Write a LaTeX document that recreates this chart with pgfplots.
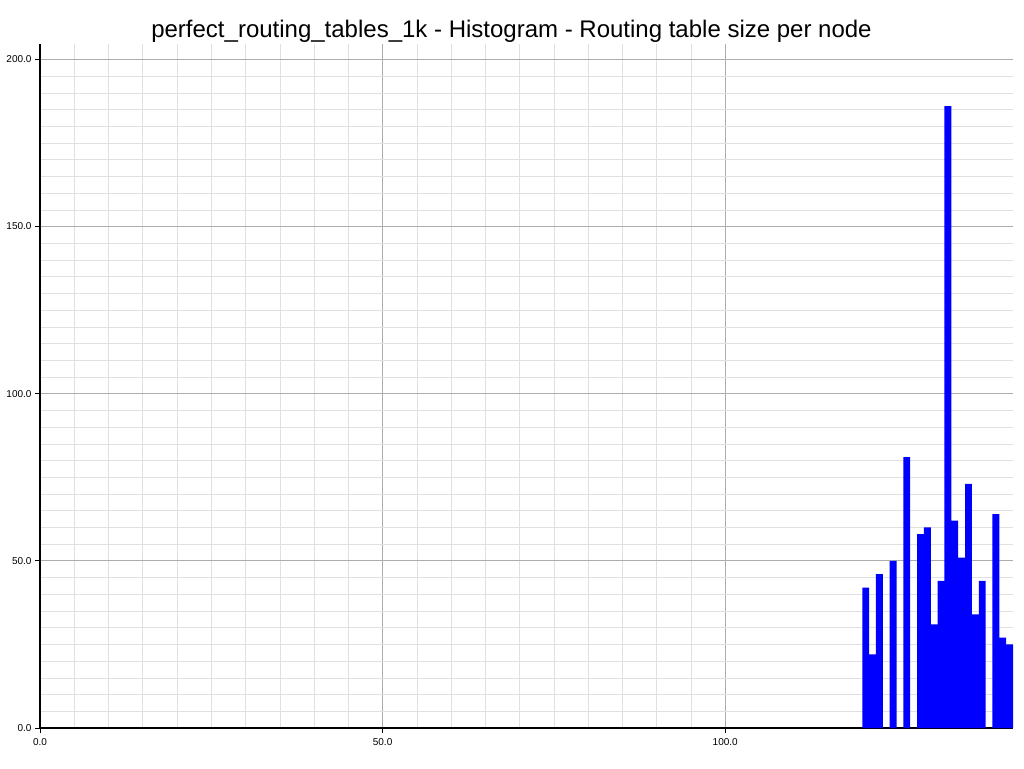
\documentclass[border=0pt]{standalone}
\usepackage{pgfplots}
\pgfplotsset{compat=1.18}
\usepackage{fontspec}
\setmainfont{Liberation Sans}
\definecolor{majgrid}{gray}{0.68}
\definecolor{mingrid}{gray}{0.88}
\begin{document}
\begin{tikzpicture}[x=1pt,y=1pt]
\begin{axis}[
    scale only axis,
    width=973pt, height=684pt,
    xmin=0, xmax=142,
    ymin=0, ymax=204.6,
    axis lines=left,
    axis line style={-, line width=1.3pt},
    xtick={0,50,100}, ytick={0,50,100,150,200},
    minor x tick num=9, minor y tick num=9,
    minor tick length=0pt,
    major tick length=5pt,
    tick align=outside,
    tick style={black, line width=0.8pt},
    grid=both,
    major grid style={majgrid, line width=0.7pt},
    minor grid style={mingrid, line width=0.6pt},
    /pgf/number format/assume math mode=true,
    /pgf/number format/.cd, fixed, fixed zerofill, precision=1, /pgfplots/.cd,
    tick label style={font=\fontsize{10}{11}\selectfont},
    xticklabel style={yshift=-2pt},
    title={perfect\_routing\_tables\_1k - Histogram - Routing table size per node},
    title style={font=\fontsize{24}{28}\selectfont, at={(0.5,1)}, anchor=south, xshift=-15pt, yshift=-8pt},
]
\addplot[ybar interval, fill=blue, draw=none] coordinates {
    (120,42) (121,22) (122,46) (123,0) (124,50) (125,0) (126,81) (127,0)
    (128,58) (129,60) (130,31) (131,44) (132,186) (133,62) (134,51) (135,73)
    (136,34) (137,44) (138,0) (139,64) (140,27) (141,25) (142,25)
};
\end{axis}
\path (current axis.south west) ++(-40pt,-40pt) rectangle ++(1024pt,768pt);
\end{tikzpicture}
\end{document}
